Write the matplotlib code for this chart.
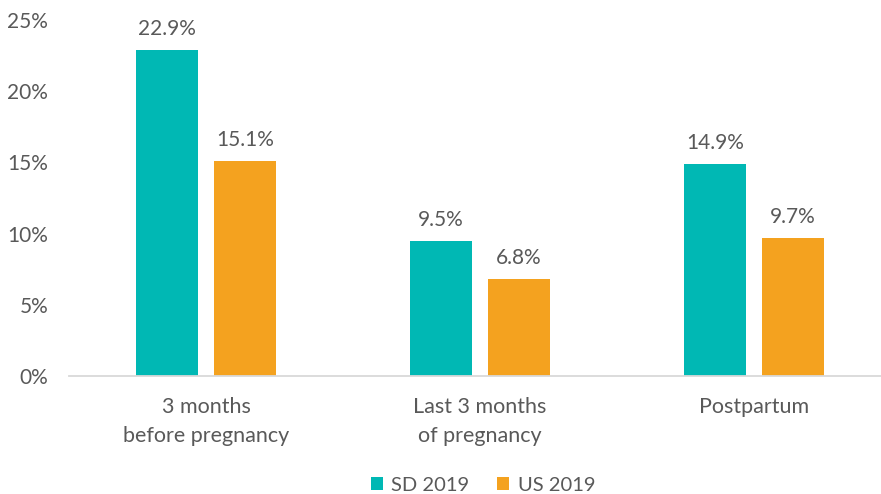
import matplotlib
matplotlib.use("Agg")
import matplotlib.pyplot as plt
import numpy as np
from matplotlib.ticker import FuncFormatter

categories = ["3 months\nbefore pregnancy", "Last 3 months\nof pregnancy", "Postpartum"]
series_names = ["SD 2019", "US 2019"]
sd_values = [22.9, 9.5, 14.9]
us_values = [15.1, 6.8, 9.7]
yticks = [0, 5, 10, 15, 20, 25]

colors = ["#00B8B4", "#F4A21F"]
text_color = "#595959"
plt.rcParams['font.family'] = ['Lato', 'DejaVu Sans']

fig = plt.figure(figsize=(8.81, 4.94), dpi=100)
ax = fig.add_axes([69/881, 118/494, 1 - 69/881, (376-20)/494])

x = np.arange(len(categories))
w = 0.226
off = 0.142
b1 = ax.bar(x - off, sd_values, w, color=colors[0], label=series_names[0])
b2 = ax.bar(x + off, us_values, w, color=colors[1], label=series_names[1])

for bars, vals in ((b1, sd_values), (b2, us_values)):
    for r, v in zip(bars, vals):
        ax.annotate(f"{v:.1f}%", (r.get_x() + r.get_width()/2, v), xytext=(0, 8),
                    textcoords="offset points", ha="center", va="bottom",
                    fontsize=15, color=text_color)

ax.set_ylim(0, 25)
ax.set_xlim(-0.5, 2.463)
ax.set_yticks(yticks)
ax.yaxis.set_major_formatter(FuncFormatter(lambda v, p: f"{v:.0f}%"))
ax.set_xticks(x)
ax.set_xticklabels(categories, linespacing=1.55)
ax.tick_params(axis="y", length=0, pad=15, labelsize=15, labelcolor=text_color)
ax.tick_params(axis="x", length=0, pad=15, labelsize=15.5, labelcolor=text_color)
for s in ("top", "right", "left"):
    ax.spines[s].set_visible(False)
ax.spines["bottom"].set_color("#D9D9D9")
ax.spines["bottom"].set_linewidth(1.3)

leg = fig.legend(handles=[b1, b2], labels=series_names, loc="center",
                 bbox_to_anchor=(483/881, 1 - 485/494), ncol=2, frameon=False,
                 fontsize=14.5, handlelength=0.6, handleheight=0.6, handletextpad=0.4,
                 columnspacing=1.4, labelcolor=text_color)

fig.savefig("out.png", dpi=100)
